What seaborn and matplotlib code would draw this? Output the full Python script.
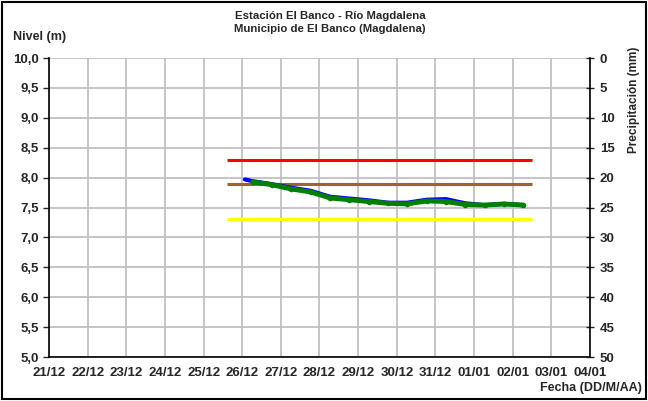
import pandas as pd
import matplotlib.pyplot as plt
from matplotlib.patches import Rectangle
import seaborn as sns

sns.set_style('white')
plt.rcParams['font.family'] = ['Liberation Sans', 'DejaVu Sans']
plt.rcParams['font.weight'] = 'bold'

# serie azul (nivel registrado)
fechas_azul = ['2021-12-26 01:40', '2021-12-26 06:30', '2021-12-26 18:30', '2021-12-27 06:30',
               '2021-12-27 18:30', '2021-12-28 06:30', '2021-12-28 18:30', '2021-12-29 06:30',
               '2021-12-29 18:30', '2021-12-30 06:30', '2021-12-30 18:30', '2021-12-31 06:30',
               '2021-12-31 18:30', '2022-01-01 06:30', '2022-01-01 18:30', '2022-01-02 06:30']
nivel_azul = [7.97, 7.94, 7.89, 7.83, 7.78, 7.68, 7.65, 7.62,
              7.58, 7.58, 7.63, 7.64, 7.57, 7.54, 7.56, 7.54]

# serie verde (nivel observado)
fechas_verde = ['2021-12-26 06:30', '2021-12-26 18:30', '2021-12-27 06:30', '2021-12-27 18:30',
                '2021-12-28 06:30', '2021-12-28 18:30', '2021-12-29 06:30', '2021-12-29 18:30',
                '2021-12-30 06:30', '2021-12-30 18:30', '2021-12-31 06:30', '2021-12-31 18:30',
                '2022-01-01 06:30', '2022-01-01 18:30', '2022-01-02 06:30']
nivel_verde = [7.93, 7.88, 7.81, 7.76, 7.66, 7.63, 7.60, 7.57,
               7.56, 7.61, 7.60, 7.55, 7.54, 7.56, 7.54]

# umbrales
umbral_inicio = '2021-12-25 14:30'
umbral_fin = '2022-01-02 12:00'
umbral_rojo = 8.3
umbral_cafe = 7.9
umbral_amarillo = 7.3

df_azul = pd.DataFrame({'fecha': pd.to_datetime(fechas_azul), 'nivel': nivel_azul})
df_verde = pd.DataFrame({'fecha': pd.to_datetime(fechas_verde), 'nivel': nivel_verde})

fig = plt.figure(figsize=(6.48, 4.01), dpi=100)
ax = fig.add_axes([0.0756, 0.1097, 0.8349, 0.7456])

# umbrales horizontales
t0, t1 = pd.Timestamp(umbral_inicio), pd.Timestamp(umbral_fin)
ax.hlines(umbral_rojo, t0, t1, color='#FF0000', lw=2.2, zorder=3)
ax.hlines(umbral_cafe, t0, t1, color='#996633', lw=2.2, zorder=3)
ax.hlines(umbral_amarillo, t0, t1, color='#FFFF00', lw=2.2, zorder=3)

# series
sns.lineplot(x='fecha', y='nivel', data=df_azul, color='#0000FF', lw=3, ax=ax, zorder=4)
sns.lineplot(x='fecha', y='nivel', data=df_verde, color='#008000', lw=3.5, marker='o',
             markersize=4, markeredgewidth=0, ax=ax, zorder=5)

# ejes
dias = pd.date_range('2021-12-21', '2022-01-04', freq='D')
ax.set_xlim(dias[0], dias[-1])
ax.set_xticks(dias)
ax.set_xticklabels([d.strftime('%d/%m') for d in dias], fontweight='bold', fontsize=9.5)
ax.set_ylim(5, 10)
yt = [5 + 0.5 * i for i in range(11)]
ax.set_yticks(yt)
ax.set_yticklabels([f'{v:.1f}'.replace('.', ',') for v in yt], fontweight='bold', fontsize=9.5)
ax.set_xlabel('')
ax.set_ylabel('')
ax.grid(True, color='#C0C0C0', lw=1.3)
ax.tick_params(axis='both', direction='out', length=4, width=1, pad=3)
for s in ['left', 'bottom']:
    ax.spines[s].set_color('black')
    ax.spines[s].set_linewidth(1.2)
ax.spines['top'].set_visible(False)
ax.spines['right'].set_visible(False)

# eje derecho de precipitación
ax2 = ax.twinx()
ax2.set_ylim(50, 0)
pt = list(range(0, 51, 5))
ax2.set_yticks(pt)
ax2.set_yticklabels([str(v) for v in pt], fontweight='bold', fontsize=9.5)
ax2.tick_params(axis='y', direction='inout', length=6, width=1, pad=4)
ax2.spines['right'].set_color('black')
ax2.spines['right'].set_linewidth(1.2)
for s in ['left', 'top', 'bottom']:
    ax2.spines[s].set_visible(False)

# textos
fig.text(330 / 648, 1 - 16 / 401, 'Estación El Banco - Río Magdalena', ha='center', va='center',
         fontsize=8.2, fontweight='bold')
fig.text(330 / 648, 1 - 29 / 401, 'Municipio de El Banco (Magdalena)', ha='center', va='center',
         fontsize=8.2, fontweight='bold')
fig.text(13 / 648, 1 - 37 / 401, 'Nivel (m)', ha='left', va='center', fontsize=9, fontweight='bold')
fig.text(642 / 648, 1 - 388 / 401, 'Fecha (DD/M/AA)', ha='right', va='center', fontsize=9,
         fontweight='bold')
fig.text(634 / 648, 1 - 47 / 401, 'Precipitación (mm)', ha='center', va='top', rotation=90,
         fontsize=8.5, fontweight='bold')

# marco de la figura
fig.patches.append(Rectangle((0.003, 0.004), 0.994, 0.992, transform=fig.transFigure,
                             fill=False, edgecolor='black', lw=1.5))

plt.savefig('out.png', dpi=100)
